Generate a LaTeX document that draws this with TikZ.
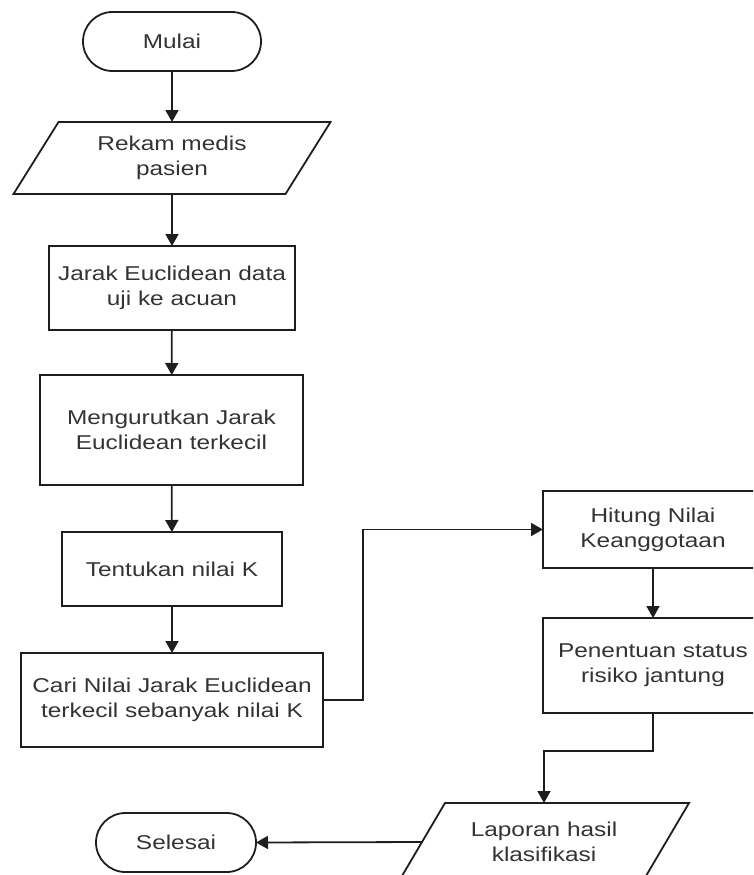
\documentclass[tikz,border=0pt]{standalone}
\usepackage{fontspec}
\setmainfont{Liberation Sans}[FakeStretch=1.22]
\usetikzlibrary{arrows.meta,shapes.misc}
\definecolor{linec}{HTML}{1E1E1E}
\definecolor{textc}{HTML}{333333}
\begin{document}
\begin{tikzpicture}[x=1pt,y=-1pt,
  base/.style={align=center, inner sep=0pt, outer sep=0pt, text=textc,
    font=\fontsize{20}{25}\selectfont},
  box/.style={base, draw=linec, line width=1.8pt},
  term/.style={box, rounded rectangle},
  para/.style={draw=linec, line width=1.8pt, line join=miter},
  flow/.style={draw=linec, line width=1.8pt, -{Triangle[length=12pt,width=13pt]}},
]
\useasboundingbox (0,0) rectangle (753,875);
\clip (0,0) rectangle (753,875);

\node[term, minimum width=178pt, minimum height=59pt] (mulai) at (172,41.5) {Mulai};
\node[base, minimum width=272pt, minimum height=72pt] (rekam) at (172,158) {Rekam medis\\pasien};
\node[box, minimum width=246pt, minimum height=84pt] (jarak) at (172,288) {Jarak Euclidean data\\uji ke acuan};
\node[box, minimum width=263pt, minimum height=110pt] (urut) at (171.5,430) {Mengurutkan Jarak\\Euclidean terkecil};
\node[box, minimum width=220pt, minimum height=74pt] (tentu) at (172,569) {Tentukan nilai K};
\node[box, minimum width=302pt, minimum height=94pt] (cari) at (172,700) {Cari Nilai Jarak Euclidean\\terkecil sebanyak nilai K};
\node[box, minimum width=220pt, minimum height=77pt] (hitung) at (653,529.5) {Hitung Nilai\\Keanggotaan};
\node[box, minimum width=220pt, minimum height=95pt] (status) at (653,665.5) {Penentuan status\\risiko jantung};
\node[base, minimum width=244pt, minimum height=78pt] (lapor) at (544,842) {Laporan hasil\\klasifikasi};
\node[term, minimum width=160pt, minimum height=59pt] (selesai) at (176,842.5) {Selesai};

\draw[para] ([xshift=22.5pt]rekam.north west) -- ([xshift=22.5pt]rekam.north east)
  -- ([xshift=-22.5pt]rekam.south east) -- ([xshift=-22.5pt]rekam.south west) -- cycle;
\draw[para] ([xshift=23pt]lapor.north west) -- ([xshift=23pt]lapor.north east)
  -- ([xshift=-23pt]lapor.south east) -- ([xshift=-23pt]lapor.south west) -- cycle;

\draw[flow] (mulai) -- (rekam.north);
\draw[flow] (rekam.south) -- (jarak);
\draw[flow] (jarak) -- (urut);
\draw[flow] (urut) -- (tentu);
\draw[flow] (tentu) -- (cari);
\draw[flow] (cari.east) -- ++(40,0) |- (hitung.west);
\draw[flow] (hitung) -- (status);
\draw[flow] (status.south) -- ++(0,38) -| (lapor.north);
\draw[flow] (lapor.west) -- (selesai.east);
\end{tikzpicture}
\end{document}
